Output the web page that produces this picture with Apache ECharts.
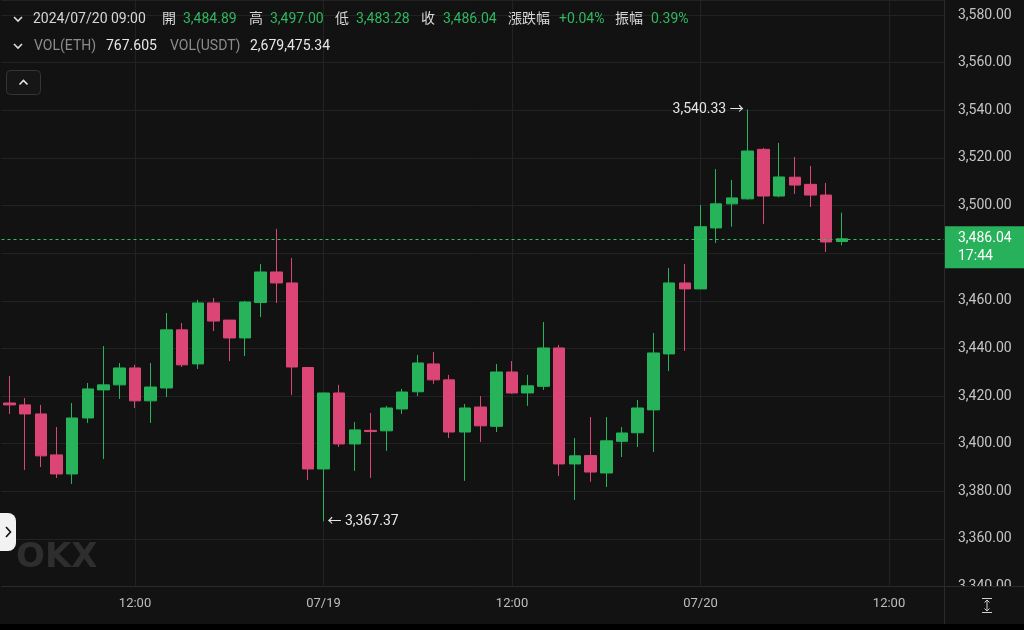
<!DOCTYPE html>
<html>
<head>
<meta charset="utf-8">
<script src="https://cdn.jsdelivr.net/npm/echarts@6/dist/echarts.min.js"></script>
<style>
html,body{margin:0;padding:0;background:#121212;}
#c{width:1024px;height:630px;}
</style>
</head>
<body>
<div id="c"></div>
<script>
// ---------- data ----------
const categories = [
 '07/18 04:00','07/18 05:00','07/18 06:00','07/18 07:00','07/18 08:00','07/18 09:00','07/18 10:00','07/18 11:00',
 '07/18 12:00','07/18 13:00','07/18 14:00','07/18 15:00','07/18 16:00','07/18 17:00','07/18 18:00','07/18 19:00',
 '07/18 20:00','07/18 21:00','07/18 22:00','07/18 23:00',
 '07/19 00:00','07/19 01:00','07/19 02:00','07/19 03:00','07/19 04:00','07/19 05:00','07/19 06:00','07/19 07:00',
 '07/19 08:00','07/19 09:00','07/19 10:00','07/19 11:00','07/19 12:00','07/19 13:00','07/19 14:00','07/19 15:00',
 '07/19 16:00','07/19 17:00','07/19 18:00','07/19 19:00','07/19 20:00','07/19 21:00','07/19 22:00','07/19 23:00',
 '07/20 00:00','07/20 01:00','07/20 02:00','07/20 03:00','07/20 04:00','07/20 05:00','07/20 06:00','07/20 07:00',
 '07/20 08:00','07/20 09:00','07/20 10:00','07/20 11:00','07/20 12:00','07/20 13:00','07/20 14:00','07/20 15:00'
];
const openPrices = [
 3417.1,3416.3,3412.5,3395.3,3387.3,3410.8,3422.6,3424.7,3431.8,3418.0,
 3423.4,3447.8,3433.5,3459.1,3451.9,3444.4,3459.3,3472.1,3467.5,3432.0,
 3389.4,3421.3,3399.9,3405.6,3405.4,3414.6,3421.8,3433.5,3426.8,3404.9,
 3415.4,3407.3,3430.1,3421.3,3424.1,3440.2,3391.5,3395.0,3387.7,3401.0,
 3404.6,3414.2,3437.7,3467.5,3465.0,3490.6,3500.7,3502.8,3523.6,3504.0,
 3511.9,3508.9,3504.4,3484.89
];
const closePrices = [
 3416.3,3412.5,3394.9,3387.3,3410.8,3423.0,3424.7,3431.8,3418.0,3423.8,
 3447.8,3433.1,3459.1,3451.5,3444.4,3459.5,3472.1,3467.5,3432.2,3389.4,
 3421.3,3399.9,3405.8,3405.1,3415.0,3421.7,3433.9,3426.8,3404.9,3415.0,
 3407.5,3430.1,3421.3,3424.3,3440.2,3391.5,3394.9,3388.1,3401.2,3404.5,
 3415.0,3438.1,3467.5,3465.0,3491.1,3500.7,3503.2,3522.9,3504.0,3512.0,
 3508.6,3504.4,3484.7,3486.04
];
const lowPrices = [
 3412.5,3389.0,3390.2,3385.6,3383.1,3408.7,3393.6,3418.8,3415.0,3408.7,
 3419.6,3432.2,3431.4,3447.3,3434.7,3436.8,3453.2,3459.1,3420.5,3384.8,
 3367.37,3398.6,3388.6,3385.6,3397.0,3412.5,3420.0,3425.1,3402.4,3384.4,
 3400.7,3404.9,3421.0,3415.9,3422.6,3386.5,3376.4,3384.0,3381.8,3394.4,
 3398.6,3396.5,3430.5,3439.0,3465.0,3484.3,3491.1,3502.5,3492.3,3503.5,
 3504.9,3499.4,3480.5,3483.28
];
const highPrices = [
 3428.4,3419.2,3416.3,3407.0,3417.1,3425.5,3441.0,3433.9,3433.1,3433.9,
 3454.9,3450.7,3460.4,3461.2,3452.0,3460.0,3475.5,3490.2,3478.0,3432.2,
 3421.5,3424.7,3409.1,3412.9,3415.9,3423.0,3437.3,3438.5,3428.9,3416.7,
 3420.0,3433.5,3434.7,3428.9,3451.1,3441.5,3402.4,3411.2,3411.2,3407.0,
 3418.4,3446.5,3473.8,3475.5,3500.2,3515.3,3510.7,3540.33,3524.2,3526.3,
 3520.4,3516.6,3509.5,3497.00
];
const gridTimes = ['07/18 12:00','07/19 00:00','07/19 12:00','07/20 00:00','07/20 12:00'];
const headerTime = '2024/07/20 09:00';
const volEth = '767.605';
const volUsdt = '2,679,475.34';
const tagTime = '17:44';
const yMin = 3340, yMax = 3586.3, yStep = 20;

// ---------- styles ----------
const BG = '#121212';
const GREEN = '#26b35a';
const RED = '#db4676';
const GRID = '#222222';
const FONT = 'Roboto, "Noto Sans CJK TC", sans-serif';

function fmt(v){ return v.toLocaleString('en-US',{minimumFractionDigits:2,maximumFractionDigits:2}); }

const candleData = openPrices.map((o,i)=>[o, closePrices[i], lowPrices[i], highPrices[i]]);
const n = openPrices.length;
const lastO = openPrices[n-1], lastC = closePrices[n-1], lastL = lowPrices[n-1], lastH = highPrices[n-1];
const prevC = closePrices[n-2];
const chg = (lastC - prevC)/prevC*100;
const amp = (lastH - lastL)/prevC*100;

let maxIdx = 0, minIdx = 0;
highPrices.forEach((v,i)=>{ if(v>highPrices[maxIdx]) maxIdx=i; });
lowPrices.forEach((v,i)=>{ if(v<lowPrices[minIdx]) minIdx=i; });

const chart = echarts.init(document.getElementById('c'), null, {renderer:'canvas'});

const option = {
  backgroundColor: BG,
  animation: false,
  grid: {left: 1.5, right: 80, top: 0, bottom: 43.4, containLabel: false},
  xAxis: {
    type: 'category', data: categories, boundaryGap: true, z: 100,
    axisLine: {show: true, lineStyle: {color: '#2a2a2a', width: 1}},
    axisTick: {show: false},
    splitLine: {show: false},
    axisLabel: {
      color: '#bdbdbd', fontSize: 13, fontFamily: FONT, margin: 11,
      interval: (idx, val) => val.endsWith('12:00') || val.endsWith('00:00'),
      formatter: (val) => val.endsWith('00:00') ? val.slice(0,5) : val.slice(6)
    }
  },
  yAxis: {
    type: 'value', position: 'right', min: yMin, max: yMax, interval: yStep,
    axisLine: {show: false}, axisTick: {show: false},
    splitLine: {show: true, lineStyle: {color: GRID, width: 1}},
    axisLabel: {color: '#c4c4c4', fontSize: 14, fontFamily: FONT, margin: 14, showMaxLabel: false,
                formatter: v => fmt(v)}
  },
  series: [
    {
      type: 'line', data: [], z: 0, silent: true,
      markLine: {
        z: 0, symbol: ['none','none'], silent: true, animation: false,
        label: {show: false},
        lineStyle: {color: GRID, type: 'solid', width: 1},
        data: gridTimes.map(t => ({xAxis: t}))
      }
    },
    {
      type: 'candlestick', data: candleData, barWidth: 12, z: 3,
      itemStyle: {color: GREEN, color0: RED, borderColor: GREEN, borderColor0: RED, borderWidth: 1},
      markLine: {
        symbol: ['none','none'], silent: true, animation: false,
        label: {show: false},
        lineStyle: {color: '#2fbf62', type: [3,3], width: 1, opacity: 1},
        data: [{yAxis: lastC}]
      },
      markPoint: {
        symbol: 'circle', symbolSize: 2, silent: true, animation: false,
        itemStyle: {color: 'transparent'},
        data: [
          {coord: [categories[maxIdx], highPrices[maxIdx]],
           label: {show: true, position: 'left', distance: 3, color: '#e6e6e6', fontSize: 14, fontFamily: FONT,
                   formatter: fmt(highPrices[maxIdx]) + ' →'}},
          {coord: [categories[minIdx], lowPrices[minIdx]],
           label: {show: true, position: 'right', distance: 3, color: '#e6e6e6', fontSize: 14, fontFamily: FONT,
                   formatter: '← ' + fmt(lowPrices[minIdx])}}
        ]
      }
    }
  ]
};
chart.setOption(option);

const tagY = chart.convertToPixel({yAxisIndex: 0}, lastC);

function txt(x, y, s, color, size, extra){
  return Object.assign({type:'text', x:x, y:y, z:200, silent:true,
    style:{text:s, fill:color, font: (size||14)+'px '+FONT, textVerticalAlign:'middle', textAlign:'left'}}, extra||{});
}
const LBL = '#d6d6d6', VAL = '#2fb860', GRAY = '#8c8c8c';
const r1 = 19, r2 = 46;
const graphics = [
  // bottom axis band & black strip
  {type:'rect', z:50, silent:true, shape:{x:0, y:587, width:1024, height:38}, style:{fill:BG}},
  {type:'rect', z:50, silent:true, shape:{x:0, y:624, width:1024, height:6}, style:{fill:'#000'}},
  {type:'line', z:60, silent:true, shape:{x1:944.5, y1:0, x2:944.5, y2:624}, style:{stroke:'#2a2a2a', lineWidth:1}},
  {type:'line', z:60, silent:true, shape:{x1:944, y1:586.5, x2:1024, y2:586.5}, style:{stroke:'#2a2a2a', lineWidth:1}},
  // fit icon
  {type:'line', z:60, silent:true, shape:{x1:982, y1:598.5, x2:992, y2:598.5}, style:{stroke:'#cfcfcf', lineWidth:1}},
  {type:'line', z:60, silent:true, shape:{x1:982, y1:612.5, x2:992, y2:612.5}, style:{stroke:'#cfcfcf', lineWidth:1}},
  {type:'line', z:60, silent:true, shape:{x1:987, y1:600, x2:987, y2:611}, style:{stroke:'#cfcfcf', lineWidth:1}},
  {type:'polyline', z:60, silent:true, shape:{points:[[984.5,602.5],[987,600],[989.5,602.5]]}, style:{stroke:'#cfcfcf', lineWidth:1, fill:null}},
  {type:'polyline', z:60, silent:true, shape:{points:[[984.5,608.5],[987,611],[989.5,608.5]]}, style:{stroke:'#cfcfcf', lineWidth:1, fill:null}},
  // price tag
  {type:'rect', z:150, silent:true, shape:{x:945, y:tagY-12.5, width:79, height:42}, style:{fill:'#27b15a'}},
  txt(958, tagY, fmt(lastC), '#ffffff', 14),
  txt(958, tagY+18, tagTime, '#ffffff', 14),
  // header row 1
  {type:'polyline', z:200, silent:true, shape:{points:[[14,17],[18,21],[22,17]]}, style:{stroke:'#dcdcdc', lineWidth:1.6, fill:null}},
  txt(33, r1, headerTime, LBL),
  txt(162, r1, '開', LBL),
  txt(183, r1, fmt(lastO), VAL),
  txt(249, r1, '高', LBL),
  txt(270, r1, fmt(lastH), VAL),
  txt(335, r1, '低', LBL),
  txt(356, r1, fmt(lastL), VAL),
  txt(421, r1, '收', LBL),
  txt(443, r1, fmt(lastC), VAL),
  txt(508, r1, '漲跌幅', LBL),
  txt(559, r1, (chg>=0?'+':'') + chg.toFixed(2) + '%', VAL),
  txt(615, r1, '振幅', LBL),
  txt(651, r1, amp.toFixed(2) + '%', VAL),
  // header row 2
  {type:'polyline', z:200, silent:true, shape:{points:[[14,44],[18,48],[22,44]]}, style:{stroke:'#dcdcdc', lineWidth:1.6, fill:null}},
  txt(34, r2, 'VOL(ETH)', GRAY),
  txt(106, r2, volEth, '#e8e8e8'),
  txt(170, r2, 'VOL(USDT)', GRAY),
  txt(250, r2, volUsdt, '#e8e8e8'),
  // collapse button
  {type:'rect', z:200, silent:true, shape:{x:6.5, y:70.5, width:34, height:24, r:4}, style:{fill:'#161616', stroke:'#353535', lineWidth:1}},
  {type:'polyline', z:201, silent:true, shape:{points:[[19.5,84.5],[23.5,80.5],[27.5,84.5]]}, style:{stroke:'#e6e6e6', lineWidth:1.6, fill:null}},
  // left tab
  {type:'rect', z:200, silent:true, shape:{x:-10, y:513, width:26, height:38, r:8}, style:{fill:'#f2f2f2'}},
  {type:'polyline', z:201, silent:true, shape:{points:[[6,527],[10.5,532],[6,537]]}, style:{stroke:'#111', lineWidth:1.6, fill:null}},
  // watermark
  txt(16, 558, 'OKX', '#2e2e2e', 34, {style:{text:'OKX', fill:'#2e2e2e', font:'900 34px "DejaVu Sans", sans-serif', textVerticalAlign:'middle', textAlign:'left'}})
];
chart.setOption({graphic: graphics});
</script>
</body>
</html>
